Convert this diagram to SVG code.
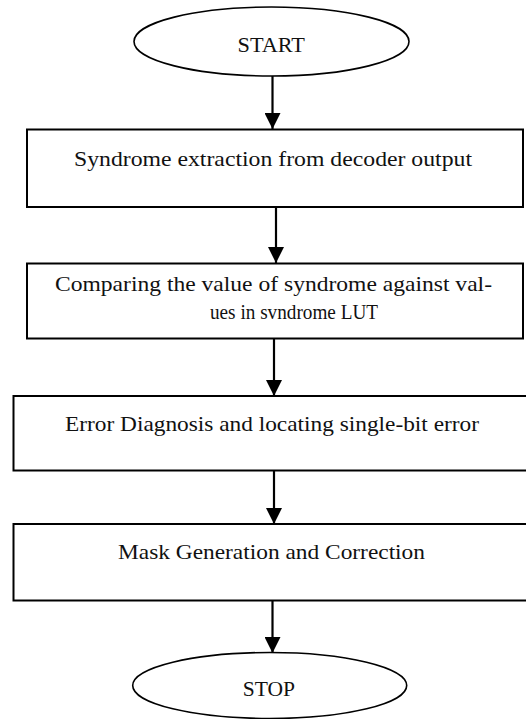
<svg xmlns="http://www.w3.org/2000/svg" width="526" height="719" viewBox="0 0 526 719">
<style>
.shape{fill:#fff;stroke:#000;stroke-width:2}
.oval{fill:#fff;stroke:#000;stroke-width:1.6}
.t{font-family:"Liberation Serif","Times New Roman",serif;font-size:21px;fill:#111}
.c{stroke:#000;stroke-width:2.2;fill:none}
</style>
<defs>
<marker id="ah" markerUnits="userSpaceOnUse" markerWidth="16" markerHeight="16" viewBox="0 0 16 16" refX="16" refY="8" orient="auto">
<path d="M0,0 L16,8 L0,16 Z" fill="#000"/>
</marker>
</defs>
<rect width="526" height="719" fill="#fff"/>
<g id="connectors">
<line class="c" x1="272.5" y1="76" x2="272.5" y2="129" marker-end="url(#ah)"/>
<line class="c" x1="276" y1="208" x2="276" y2="263" marker-end="url(#ah)"/>
<line class="c" x1="274" y1="339" x2="274" y2="396" marker-end="url(#ah)"/>
<line class="c" x1="274" y1="471" x2="274" y2="524" marker-end="url(#ah)"/>
<line class="c" x1="272.5" y1="601" x2="272.5" y2="653" marker-end="url(#ah)"/>
</g>
<g id="start">
<ellipse class="oval" cx="271.5" cy="41.5" rx="137.5" ry="34.5"/>
<text class="t" x="237.5" y="52" textLength="67.5" lengthAdjust="spacingAndGlyphs">START</text>
</g>
<g id="syndrome-extraction">
<rect class="shape" x="27" y="129.5" width="496" height="77.5"/>
<text class="t" x="74" y="166" textLength="398" lengthAdjust="spacingAndGlyphs">Syndrome extraction from decoder output</text>
</g>
<g id="comparing">
<rect class="shape" x="27" y="263.5" width="496" height="75"/>
<text class="t" x="55" y="291" textLength="437" lengthAdjust="spacingAndGlyphs">Comparing the value of syndrome against val-</text>
<text class="t" x="210" y="319" textLength="168" lengthAdjust="spacingAndGlyphs">ues in svndrome LUT</text>
</g>
<g id="error-diagnosis">
<rect class="shape" x="13.5" y="396" width="520" height="74.5"/>
<text class="t" x="65" y="431" textLength="414" lengthAdjust="spacingAndGlyphs">Error Diagnosis and locating single-bit error</text>
</g>
<g id="mask-generation">
<rect class="shape" x="13.5" y="524" width="520" height="76.5"/>
<text class="t" x="118" y="559" textLength="307" lengthAdjust="spacingAndGlyphs">Mask Generation and Correction</text>
</g>
<g id="stop">
<ellipse class="oval" cx="269.7" cy="685.5" rx="137" ry="33"/>
<text class="t" x="242.7" y="696" textLength="52.3" lengthAdjust="spacingAndGlyphs">STOP</text>
</g>
</svg>
